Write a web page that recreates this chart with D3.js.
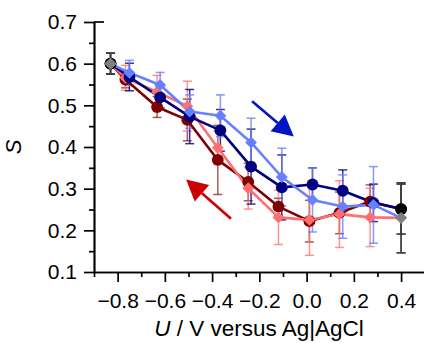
<!DOCTYPE html>
<html>
<head>
<meta charset="utf-8">
<script src="https://cdn.jsdelivr.net/npm/d3@7"></script>
<style>
  html, body { margin: 0; padding: 0; background: #fff; }
  svg { display: block; font-family: "Liberation Sans", Arial, sans-serif; }
</style>
</head>
<body>
<svg id="chart" width="424" height="343"></svg>
<script>
// Potential steps of the forward (cathodic-to-anodic) and reverse scans
const uForward = [-0.83, -0.75, -0.62, -0.495, -0.365, -0.235, -0.105, 0.025, 0.153, 0.283, 0.40];
const uReverse = [0.40, 0.269, 0.139, 0.012, -0.119, -0.247, -0.376, -0.505, -0.633, -0.767, -0.83];

// Forward scan, circles (navy) and diamonds (light blue)
const fwdCircle    = [0.600, 0.568, 0.519, 0.473, 0.440, 0.353, 0.303, 0.310, 0.295, 0.266, 0.251];
const fwdCircleErr = [0.025, 0.033, 0.025, 0.065, 0.050, 0.090, 0.078, 0.040, 0.050, 0.045, 0.060];
const fwdDiamond    = [0.600, 0.578, 0.549, 0.485, 0.475, 0.411, 0.328, 0.273, 0.257, 0.261, 0.230];
const fwdDiamondErr = [0.025, 0.030, 0.030, 0.040, 0.050, 0.058, 0.069, 0.077, 0.076, 0.092, 0.084];

// Reverse scan, circles (dark red) and diamonds (salmon)
const revCircle    = [0.251, 0.269, 0.242, 0.222, 0.257, 0.316, 0.369, 0.465, 0.496, 0.562, 0.600];
const revCircleErr = [0.060, 0.040, 0.050, 0.050, 0.020, 0.045, 0.083, 0.050, 0.025, 0.020, 0.025];
const revDiamond    = [0.230, 0.231, 0.239, 0.225, 0.231, 0.301, 0.398, 0.498, 0.532, 0.566, 0.600];
const revDiamondErr = [0.084, 0.070, 0.080, 0.085, 0.065, 0.050, 0.040, 0.060, 0.040, 0.030, 0.025];

const xTicks = [-0.8, -0.6, -0.4, -0.2, 0.0, 0.2, 0.4];
const xMinor = [-0.9, -0.7, -0.5, -0.3, -0.1, 0.1, 0.3];
const yTicks = [0.1, 0.2, 0.3, 0.4, 0.5, 0.6, 0.7];
const yMinor = [0.15, 0.25, 0.35, 0.45, 0.55, 0.65];

const svg = d3.select("#chart");
const x = d3.scaleLinear().domain([-0.9, 0.5]).range([94, 424.7]);
const y = d3.scaleLinear().domain([0.1, 0.7]).range([272, 22]);

// ---- axes ----
const gx = svg.append("g").attr("transform", `translate(0,${y(0.1)})`);
gx.call(d3.axisBottom(x).tickValues(xMinor).tickSize(5).tickSizeOuter(0).tickFormat(""));
gx.append("g").call(d3.axisBottom(x).tickValues(xTicks).tickSize(10).tickSizeOuter(0)
  .tickFormat(d3.format(".1f")).tickPadding(8));
const gy = svg.append("g").attr("transform", `translate(${x(-0.9)},0)`);
gy.call(d3.axisLeft(y).tickValues(yMinor).tickSize(5).tickSizeOuter(0).tickFormat(""));
gy.append("g").call(d3.axisLeft(y).tickValues(yTicks).tickSize(10).tickSizeOuter(0)
  .tickFormat(d3.format(".1f")).tickPadding(7));
svg.selectAll(".domain, .tick line").attr("stroke", "#000").attr("stroke-width", 1.7);
svg.selectAll(".tick text").attr("fill", "#000").style("font-size", "21px");
gx.selectAll(".tick text").attr("dy", "0.85em");
// short inward tick at the top of the y axis
svg.append("line").attr("x1", x(-0.9)).attr("x2", x(-0.9) + 10)
  .attr("y1", y(0.7)).attr("y2", y(0.7)).attr("stroke", "#000").attr("stroke-width", 1.7);

// axis titles
const xt = svg.append("text").attr("x", 259).attr("y", 336).attr("text-anchor", "middle")
  .style("font-size", "22.5px").attr("fill", "#000");
xt.append("tspan").style("font-style", "italic").text("U");
xt.append("tspan").text(" / V versus Ag|AgCl");
svg.append("text").attr("transform", `translate(21,${y(0.4)}) rotate(-90)`)
  .attr("text-anchor", "middle").style("font-size", "22px").style("font-style", "italic")
  .attr("fill", "#000").text("S");

// ---- series ----
const zip = (xs, ys, es) => xs.map((u, i) => ({ u, s: ys[i], e: es[i], i, n: xs.length }));
const series = [
  { data: zip(uReverse, revCircle, revCircleErr), color: "#800000", err: "rgba(128,0,0,0.65)", shape: "circle" },
  { data: zip(uReverse, revDiamond, revDiamondErr), color: "#ff6f6f", err: "rgba(255,111,111,0.75)", shape: "diamond" },
  { data: zip(uForward, fwdCircle, fwdCircleErr), color: "#000080", err: "rgba(0,0,128,0.8)", shape: "circle" },
  { data: zip(uForward, fwdDiamond, fwdDiamondErr), color: "#6680ff", err: "rgba(102,128,255,0.8)", shape: "diamond" }
];

const line = d3.line().x(d => x(d.u)).y(d => y(d.s));
const capW = 4.5;

// error bars first, under everything
series.forEach(sr => {
  const g = svg.append("g").attr("stroke-width", 1.5);
  sr.data.forEach(d => {
    const endpt = (d.u === 0.40 || d.u === -0.83);
    const c = endpt ? "rgba(60,60,60,0.85)" : sr.err;
    const cx = x(d.u), y0 = y(d.s - d.e), y1 = y(d.s + d.e);
    g.append("line").attr("x1", cx).attr("x2", cx).attr("y1", y0).attr("y2", y1).attr("stroke", c);
    g.append("line").attr("x1", cx - capW).attr("x2", cx + capW).attr("y1", y0).attr("y2", y0).attr("stroke", c);
    g.append("line").attr("x1", cx - capW).attr("x2", cx + capW).attr("y1", y1).attr("y2", y1).attr("stroke", c);
  });
});

// connecting lines
series.forEach(sr => {
  svg.append("path").datum(sr.data).attr("d", line)
    .attr("fill", "none").attr("stroke", sr.color).attr("stroke-width", 2.6)
    .attr("stroke-linejoin", "round");
});

// markers; the shared start and end potentials are drawn in black / grey
const circleSym = d3.symbol().type(d3.symbolCircle).size(110);
const diamondSym = d3.symbol().type(d3.symbolDiamond2).size(90);
series.forEach(sr => {
  svg.append("g").selectAll("path").data(sr.data).join("path")
    .attr("transform", d => `translate(${x(d.u)},${y(d.s)})`)
    .attr("d", sr.shape === "circle" ? circleSym : diamondSym)
    .attr("fill", d => (d.u === 0.40 || d.u === -0.83) ? (sr.shape === "circle" ? "#000" : "#808080") : sr.color);
});
// start point drawn last so the grey diamond sits on top
svg.append("path").attr("transform", `translate(${x(-0.83)},${y(0.600)})`)
  .attr("d", diamondSym).attr("fill", "#808080");

// ---- scan direction arrows ----
function arrow(x1, y1, x2, y2, color) {
  const ang = Math.atan2(y2 - y1, x2 - x1);
  const L = 21, W = 11;
  const bx = x2 - L * Math.cos(ang), by = y2 - L * Math.sin(ang);
  svg.append("line").attr("x1", x1).attr("y1", y1).attr("x2", bx).attr("y2", by)
    .attr("stroke", color).attr("stroke-width", 2.6);
  const px = -Math.sin(ang) * W, py = Math.cos(ang) * W;
  svg.append("path")
    .attr("d", `M${x2},${y2}L${bx + px},${by + py}L${bx - px},${by - py}Z`)
    .attr("fill", color);
}
arrow(x(-0.235) + 1, y(0.5) - 4, x(-0.05) - 1, y(0.43) + 2, "#0016c2");
arrow(x(-0.32), y(0.228), x(-0.51), y(0.322), "#cc0000");
</script>
</body>
</html>
